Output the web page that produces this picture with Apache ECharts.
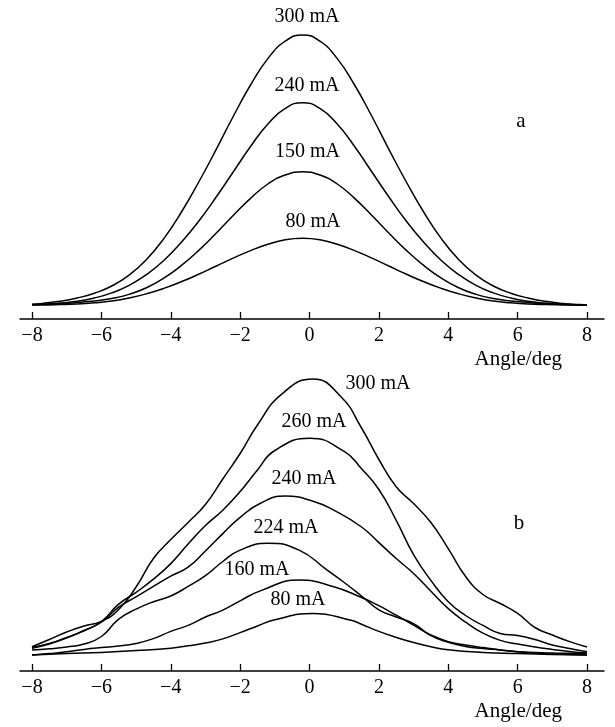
<!DOCTYPE html>
<html><head><meta charset="utf-8">
<script src="https://cdn.jsdelivr.net/npm/echarts@6/dist/echarts.min.js"></script>
<style>html,body{margin:0;padding:0;background:#fff}#c{width:615px;height:727px}</style>
</head><body><div id="c"></div>
<script>
// ---- Panel a: angle samples (deg) shared by all four curves ----
const aAngles = [-8,-7.7,-7.2,-6.7,-6.2,-5.7,-5.2,-4.7,-4.2,-3.7,-3.2,-2.7,-2.2,-1.7,-1.2,-0.7,-0.2,0.3,0.8,1.3,1.8,2.3,2.8,3.3,3.8,4.3,4.8,5.3,5.8,6.3,6.8,7.3,7.8,8];
const a300 = [4.9,5.2,5.9,7,8.6,11,14.6,19.8,26.8,35.5,45.5,56.3,67.5,78,86.8,92.6,94.7,92.6,86.8,78,67.5,56.3,45.5,35.5,26.8,19.8,14.6,11,8.6,7,5.9,5.2,4.8,4.6];
const a240 = [4.8,4.9,5.3,5.9,7,8.7,11.2,14.8,19.5,25.5,32.5,40.5,49,57.5,65,70.2,72.1,70.2,65,57.5,49,40.5,32.5,25.5,19.5,14.8,11.2,8.7,7,5.9,5.3,4.9,4.7,4.6];
const a150 = [4.7,4.9,5.1,5.5,6,6.8,8.2,10.4,13.6,17.8,22.8,28.5,34.5,40.2,45,48,49.1,48,45,40.2,34.5,28.5,22.8,17.8,13.6,10.4,8.2,6.8,6,5.5,5.1,4.9,4.7,4.6];
const a80  = [4.7,4.7,4.8,5,5.4,6,7,8.4,10.2,12.4,14.9,17.6,20.3,22.8,24.9,26.4,26.9,26.4,24.9,22.8,20.3,17.6,14.9,12.4,10.2,8.4,7,6,5.4,5,4.8,4.7,4.6,4.6];

// ---- Panel b: angle samples (deg) and values per curve ----
const b300x = [-8,-7.5,-7,-6.5,-6,-5.5,-5,-4.5,-4,-3.5,-3,-2.5,-2,-1.5,-0.8,0.1,0.9,1.5,2,2.5,3,3.5,4,4.5,5,5.5,6,6.5,7,7.5,8];
const b300  = [8.1,10.5,13,15,16.5,20.5,28,37.5,43.8,49.5,55.5,64,72.5,82,92.3,97.3,91.5,81,70.5,61.4,55.8,49.5,40.8,31.5,25.5,22.5,19.2,14.5,12,9.8,8];
const b260x = [-8,-7.5,-7,-6.5,-6,-5.5,-5,-4.5,-4,-3.5,-3,-2.5,-2,-1.5,-1,0,1,1.5,2,2.5,3,3.5,4,4.5,5,5.5,6,6.5,7,7.5,8];
const b260  = [7.9,9.2,11.2,13.4,16.5,22.3,26.2,30.6,35.8,42.3,48.5,53.6,59.8,67,73.5,77.6,73.2,67.4,60.5,50.2,38.8,30.2,23.1,18.5,15.2,12.5,11.8,10.5,8.7,7.5,6.4];
const b240x = [-8,-7.5,-7,-6.5,-6,-5.5,-5,-4.5,-4,-3.5,-3,-2.5,-2,-1.4,-0.7,0.1,0.7,1.5,2,2.5,3,3.5,4,4.5,5,5.5,6,6.5,7,7.5,8];
const b240  = [7.6,9,11,13.5,16.3,21.3,24.7,28.2,31.6,34.6,40,45.8,51.2,56,58.3,56.6,53.6,48,42.8,37.5,32.5,26.6,20.8,16.3,12.6,10.2,9,8,7.2,6.5,5.9];
const b224x = [-8,-7.5,-7,-6.5,-6,-5.5,-5,-4.5,-4,-3.5,-3,-2.5,-2,-1.2,-0.3,0.5,1,1.5,2,2.5,3,3.5,4,4.5,5,5.5,6,6.5,7,7.5,8];
const b224  = [7,7.4,8,9,11.5,17.3,20.6,23.1,25,28.2,31.8,36.5,40.3,42.6,40.3,33.7,29.5,25,20.4,18,15.8,11.8,9.6,8.2,7.5,7,6.4,6,5.7,5.5,5.3];
const b160x = [-8,-7.5,-7,-6.5,-6,-5.5,-5,-4.5,-4,-3.5,-3,-2.5,-2,-1.4,-0.3,0.7,1.5,2,2.5,3,3.5,4,4.5,5,5.5,6,6.5,7,7.5,8];
const b160  = [5.3,5.8,6.4,7.2,7.8,8.3,9.2,10.8,13.2,15.2,18,20.3,23.4,26.8,30.3,28.1,24.5,21.8,18.6,15.3,12,9.8,8.7,7.8,7,6.4,6.2,6,5.9,5.9];
const b80x  = [-8,-7,-6,-5,-4,-3.5,-3,-2.5,-2,-1.5,-1,0.1,1.2,1.5,2,2.5,3,3.5,4,5,6,7,8];
const b80   = [5.3,5.8,6.2,6.8,7.6,8.4,9.3,10.7,12.8,15,17.1,19.2,16.9,15.6,13.2,11.2,9.5,8.1,7.1,6.2,5.8,5.5,5.3];

const seriesA = [['300 mA', aAngles, a300], ['240 mA', aAngles, a240], ['150 mA', aAngles, a150], ['80 mA', aAngles, a80]];
const seriesB = [['300 mA', b300x, b300], ['260 mA', b260x, b260], ['240 mA', b240x, b240],
                 ['224 mA', b224x, b224], ['160 mA', b160x, b160], ['80 mA', b80x, b80]];
const panelNames = ['a', 'b'];
const axisTitle = 'Angle/deg';

// label layout (pixels)
const labelPosA = [[307,16.5],[307,85.5],[307.5,151.5],[313,222]];
const labelPosB = [[378,383.3],[314,421.7],[304,478.3],[286,527.5],[257,570],[298,600]];

const FONT = '"Liberation Serif", "Times New Roman", serif';
const chart = echarts.init(document.getElementById('c'), null, {renderer: 'canvas'});

function pairs(xs, ys) { return xs.map((x, i) => [x, ys[i]]); }

function dataXAxis(gi) {
  return {
    type: 'value', gridIndex: gi, min: -8, max: 8, interval: 2,
    axisLine: {show: false},
    axisTick: {show: true, inside: true, length: 7, lineStyle: {color: '#000', width: 1.3}},
    axisLabel: {show: true, margin: 17, verticalAlign: 'middle', color: '#000',
      fontFamily: FONT, fontSize: 20,
      formatter: v => (v < 0 ? '\u2212' + Math.abs(v) : String(v))},
    splitLine: {show: false}
  };
}
function lineXAxis(gi) {
  return {
    type: 'value', gridIndex: gi, min: 0, max: 1,
    axisLine: {show: true, onZero: false, lineStyle: {color: '#000', width: 1.5}},
    axisTick: {show: false}, axisLabel: {show: false}, splitLine: {show: false}
  };
}
function yAx(gi) {
  return {type: 'value', gridIndex: gi, min: 0, max: 100, show: false, splitLine: {show: false}};
}
function mkSeries(name, xs, ys, xi) {
  return {
    type: 'line', name: name, xAxisIndex: xi, yAxisIndex: xi,
    data: pairs(xs, ys), smooth: 0.5, showSymbol: false, symbol: 'none',
    lineStyle: {color: '#000', width: 1.5}, silent: true, animation: false, z: 3
  };
}

function txt(x, y, text, size, align) {
  return {type: 'text', x: x, y: y,
    style: {text: text, font: size + 'px ' + FONT, fill: '#000', align: align, verticalAlign: 'middle',
      textAlign: align, textVerticalAlign: 'middle'}};
}
const graphics = [];
seriesA.forEach((s, i) => graphics.push(txt(labelPosA[i][0], labelPosA[i][1], s[0], 20, 'center')));
seriesB.forEach((s, i) => graphics.push(txt(labelPosB[i][0], labelPosB[i][1], s[0], 20, 'center')));
graphics.push(txt(521, 121.5, panelNames[0], 21, 'center'));
graphics.push(txt(519, 523.2, panelNames[1], 21, 'center'));
graphics.push(txt(562, 359.6, axisTitle, 21, 'right'));
graphics.push(txt(562, 711.6, axisTitle, 21, 'right'));

const option = {
  backgroundColor: '#fff',
  animation: false,
  grid: [
    {left: 32, right: 28, top: 19, height: 300},
    {left: 20, right: 11, top: 19, height: 300},
    {left: 32, right: 28, top: 371, height: 300},
    {left: 20, right: 11, top: 371, height: 300}
  ],
  xAxis: [dataXAxis(0), lineXAxis(1), dataXAxis(2), lineXAxis(3)],
  yAxis: [yAx(0), yAx(1), yAx(2), yAx(3)],
  series: [
    ...seriesA.map(s => mkSeries(s[0], s[1], s[2], 0)),
    ...seriesB.map(s => mkSeries(s[0], s[1], s[2], 2))
  ],
  graphic: graphics
};
chart.setOption(option);
</script>
</body></html>
